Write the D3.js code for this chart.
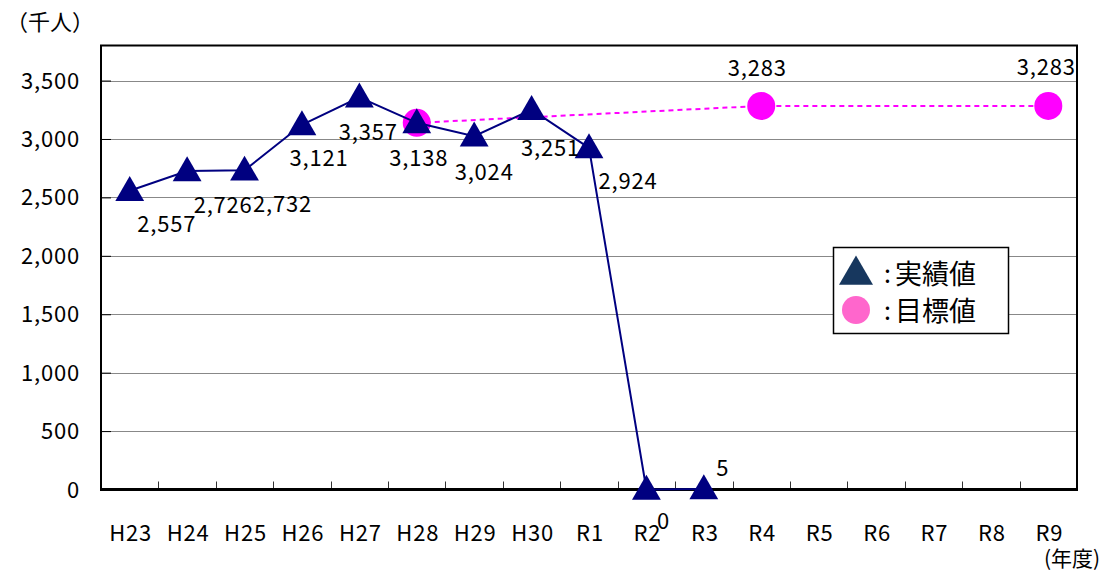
<!DOCTYPE html>
<html><head><meta charset="utf-8">
<script src="https://cdn.jsdelivr.net/npm/d3@7"></script>
<style>body{margin:0;background:#fff}svg{display:block}text{font-family:"Noto Sans CJK JP","Liberation Sans",sans-serif;fill:#000}.num{font-size:22px;letter-spacing:0.8px}</style>
</head><body>
<svg id="c" width="1109" height="573"></svg>
<script>
const categories = ["H23","H24","H25","H26","H27","H28","H29","H30","R1","R2","R3","R4","R5","R6","R7","R8","R9"];
const actualCats = ["H23","H24","H25","H26","H27","H28","H29","H30","R1","R2","R3"];
const actualValues = [2557,2726,2732,3121,3357,3138,3024,3251,2924,0,5];
const targetCats = ["H28","R4","R9"];
const targetValues = [3138,3283,3283];
const targetLabeled = [false,true,true];
const yTicks = [0,500,1000,1500,2000,2500,3000,3500];

// label offsets (styling)
const actualLabelOffsets = [[37,33],[36,34],[38,34],[17,33],[9,35],[2,35],[10,36],[19,38],[39,33],[17,31],[19,-21]];
const targetLabelOffsets = [[0,0],[-4,-38],[-2,-39]];

const svg = d3.select("#c");
const L=101, R=1077, T=45.5, B=489.5;
const x = d3.scaleBand().domain(categories).range([L,R]);
const y = d3.scaleLinear().domain([0,3800]).range([B,T]);
const cx = c => x(c)+x.bandwidth()/2;
const fmt = d3.format(",");

// gridlines
svg.append("g").selectAll("line").data(yTicks.filter(d=>d>0)).join("line")
  .attr("x1",L).attr("x2",R).attr("y1",d=>Math.round(y(d))+0.5).attr("y2",d=>Math.round(y(d))+0.5)
  .attr("stroke","#888").attr("stroke-width",1);

// y axis
const yAxis = svg.append("g").attr("transform",`translate(${L},0)`)
  .call(d3.axisRight(y).tickValues(yTicks).tickSize(10).tickFormat(""));
yAxis.select(".domain").remove();
yAxis.selectAll("line").attr("stroke","#000");
svg.append("g").selectAll("text").data(yTicks).join("text")
  .attr("class","num").attr("x",80).attr("y",d=>y(d)+8).attr("text-anchor","end")
  .text(d=>fmt(d));

// x ticks at boundaries
const bounds = categories.slice(1).map(c=>x(c));
svg.append("g").selectAll("line").data(bounds).join("line")
  .attr("x1",d=>Math.round(d)+0.5).attr("x2",d=>Math.round(d)+0.5).attr("y1",B).attr("y2",B-8)
  .attr("stroke","#333").attr("stroke-width",1);
svg.append("g").selectAll("text").data(categories).join("text")
  .attr("class","num").attr("x",d=>cx(d)+1).attr("y",541).attr("text-anchor","middle")
  .text(d=>d);

// frame
svg.append("rect").attr("x",L).attr("y",T).attr("width",R-L).attr("height",B-T)
  .attr("fill","none").attr("stroke","#000").attr("stroke-width",2);
svg.append("line").attr("x1",L-1).attr("x2",R+1).attr("y1",B).attr("y2",B)
  .attr("stroke","#000").attr("stroke-width",3);

// target dashed line
const tData = targetCats.map((c,i)=>({c,v:targetValues[i],i}));
svg.append("path").datum(tData)
  .attr("d",d3.line().x(d=>cx(d.c)).y(d=>y(d.v)))
  .attr("fill","none").attr("stroke","#FF00FF").attr("stroke-width",2).attr("stroke-dasharray","5,4");
svg.append("g").selectAll("circle").data(tData).join("circle")
  .attr("cx",d=>cx(d.c)).attr("cy",d=>y(d.v)).attr("r",14).attr("fill","#FF00FF");

// actual line
const aData = actualCats.map((c,i)=>({c,v:actualValues[i],i}));
svg.append("path").datum(aData)
  .attr("d",d3.line().x(d=>cx(d.c)).y(d=>y(d.v)))
  .attr("fill","none").attr("stroke","#000080").attr("stroke-width",2);
const tri = d3.symbol().type(d3.symbolTriangle).size(360);
svg.append("g").selectAll("path").data(aData).join("path")
  .attr("d",tri).attr("transform",d=>`translate(${cx(d.c)},${y(d.v)+2})`).attr("fill","#000080");

// labels
svg.append("g").selectAll("text").data(aData).join("text")
  .attr("class","num").attr("x",d=>cx(d.c)+actualLabelOffsets[d.i][0]).attr("y",d=>y(d.v)+actualLabelOffsets[d.i][1]+8)
  .attr("text-anchor","middle").text(d=>fmt(d.v));
svg.append("g").selectAll("text").data(tData.filter(d=>targetLabeled[d.i])).join("text")
  .attr("class","num").attr("x",d=>cx(d.c)+targetLabelOffsets[d.i][0]).attr("y",d=>y(d.v)+targetLabelOffsets[d.i][1]+8)
  .attr("text-anchor","middle").text(d=>fmt(d.v));

// axis titles
svg.append("text").attr("x",6).attr("y",30).style("font-size","22px").text("（千人）");
svg.append("text").attr("x",1072).attr("y",566).attr("text-anchor","middle").style("font-size","21px").text("(年度)");

// legend
const lg = svg.append("g");
lg.append("rect").attr("x",833.5).attr("y",247.5).attr("width",175).attr("height",86)
  .attr("fill","#fff").attr("stroke","#000").attr("stroke-width",1.5);
lg.append("path").attr("d",d3.symbol().type(d3.symbolTriangle).size(500)).attr("transform","translate(856,275)").attr("fill","#17375E");
lg.append("circle").attr("cx",856).attr("cy",310).attr("r",14).attr("fill","#FF66CC");
lg.append("text").attr("x",884).attr("y",283).style("font-size","25px").text(":");
lg.append("text").attr("x",895).attr("y",284).style("font-size","27px").text("実績値");
lg.append("text").attr("x",884).attr("y",320).style("font-size","25px").text(":");
lg.append("text").attr("x",895).attr("y",321).style("font-size","27px").text("目標値");
</script>
</body></html>
